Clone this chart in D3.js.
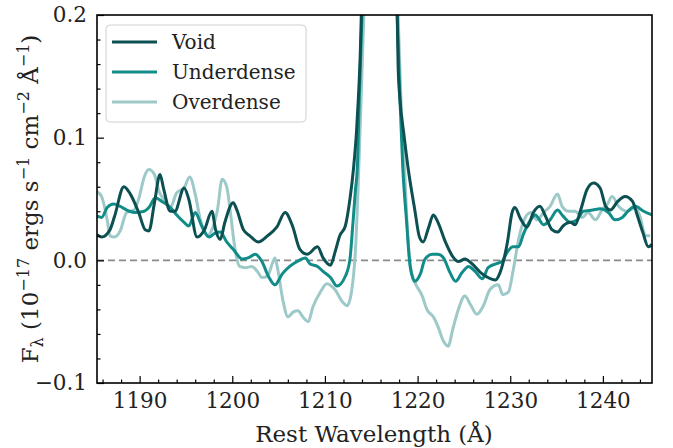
<!DOCTYPE html>
<html><head><meta charset="utf-8">
<script src="https://cdn.jsdelivr.net/npm/d3@7"></script>
<style>body{margin:0;background:#fff}svg{display:block}text{font-family:"DejaVu Serif",serif}</style>
</head><body><svg id="c" width="673" height="448"></svg>
<script>
const seriesNames = ["Void", "Underdense", "Overdense"];
const seriesColors = ["#0c5052", "#128c88", "#9dc9c8"];
const voidWave = [1185.4,1185.9,1186.8,1187.3,1188.3,1189.0,1189.9,1190.6,1191.0,1191.6,1192.2,1192.6,1193.3,1193.8,1194.8,1195.3,1196.2,1197.0,1197.8,1198.2,1198.7,1199.2,1200.1,1200.5,1201.2,1201.9,1202.8,1203.8,1204.8,1205.7,1206.5,1207.3,1208.1,1209.2,1209.8,1210.6,1211.1,1211.6,1212.2,1212.7,1213.1,1213.4,1213.6,1213.8,1214.1,1215.7,1217.3,1217.8,1217.9,1218.1,1218.5,1219.0,1219.7,1220.2,1220.6,1221.2,1221.7,1222.2,1223.0,1223.8,1224.4,1225.1,1225.9,1226.8,1227.6,1228.4,1228.9,1229.7,1230.2,1230.5,1231.1,1231.8,1232.5,1233.2,1233.8,1234.5,1235.1,1235.7,1236.5,1237.0,1237.6,1238.3,1239.0,1239.7,1240.3,1240.8,1241.6,1242.4,1243.2,1243.7,1244.3,1244.9,1245.3];
const voidFlux = [0.021,0.019,0.025,0.036,0.060,0.054,0.039,0.025,0.024,0.047,0.070,0.058,0.040,0.040,0.059,0.050,0.019,0.025,0.040,0.025,0.017,0.031,0.047,0.041,0.025,0.020,0.015,0.020,0.027,0.039,0.028,0.009,0.005,0.011,0.002,-0.004,0.007,0.020,0.028,0.050,0.076,0.104,0.131,0.165,0.25,0.6,0.25,0.2,0.158,0.131,0.104,0.074,0.041,0.019,0.015,0.027,0.037,0.031,0.015,0.003,-0.001,0.001,-0.003,-0.010,-0.014,-0.016,-0.010,0.015,0.039,0.043,0.034,0.027,0.039,0.044,0.036,0.025,0.023,0.028,0.031,0.029,0.041,0.058,0.063,0.059,0.044,0.041,0.048,0.052,0.048,0.037,0.023,0.011,0.013];
const underWave = [1185.4,1185.9,1186.5,1187.2,1187.9,1188.9,1189.5,1190.5,1191.0,1191.7,1192.4,1193.2,1194.0,1194.8,1195.3,1196.0,1196.7,1197.5,1198.1,1198.7,1199.4,1200.1,1201.1,1201.7,1202.5,1203.2,1203.9,1204.6,1205.4,1206.2,1207.0,1207.9,1208.4,1209.2,1209.8,1210.6,1211.3,1212.2,1212.7,1213.0,1213.3,1213.5,1213.7,1214.0,1214.4,1215.8,1217.3,1217.8,1218.1,1218.4,1218.8,1219.2,1219.7,1220.3,1220.8,1221.6,1222.2,1222.8,1223.5,1224.1,1224.8,1225.5,1226.2,1227.0,1227.6,1228.4,1229.1,1229.7,1230.3,1230.9,1231.4,1232.2,1232.7,1233.6,1234.3,1235.1,1235.7,1236.5,1237.2,1237.9,1238.9,1239.7,1240.6,1241.3,1242.1,1242.7,1243.5,1244.4,1245.3];
const underFlux = [0.036,0.035,0.043,0.046,0.044,0.040,0.039,0.040,0.043,0.051,0.048,0.044,0.037,0.031,0.028,0.039,0.028,0.019,0.022,0.023,0.015,0.009,0.001,0.002,0.005,-0.001,-0.013,-0.020,-0.011,-0.005,-0.001,0.002,-0.003,-0.005,-0.009,-0.014,-0.021,-0.013,0.001,0.028,0.058,0.076,0.131,0.200,0.28,0.55,0.28,0.2,0.131,0.076,0.033,-0.005,-0.017,-0.011,0.001,0.005,0.005,0.002,-0.010,-0.017,-0.010,-0.005,-0.009,-0.015,-0.006,-0.003,-0.001,0.007,0.011,0.011,0.021,0.033,0.037,0.029,0.033,0.041,0.036,0.031,0.033,0.040,0.041,0.042,0.039,0.033,0.035,0.040,0.044,0.040,0.037];
const overWave = [1185.4,1185.9,1186.5,1186.8,1187.3,1187.9,1188.6,1189.4,1189.9,1190.5,1191.0,1191.6,1192.1,1192.6,1193.3,1194.0,1194.8,1195.4,1196.0,1196.5,1197.3,1197.8,1198.4,1198.9,1199.4,1199.8,1200.3,1200.8,1201.4,1202.1,1202.7,1203.2,1203.8,1204.3,1204.6,1204.9,1205.5,1206.0,1206.6,1207.1,1207.6,1208.2,1208.7,1209.5,1210.2,1211.1,1211.9,1212.4,1212.9,1213.3,1213.6,1213.9,1214.2,1214.6,1215.8,1217.1,1217.9,1218.2,1218.6,1218.9,1219.2,1219.5,1219.7,1220.5,1221.0,1221.7,1222.2,1222.8,1223.3,1223.8,1224.4,1225.1,1225.7,1226.4,1227.1,1227.8,1228.7,1229.2,1229.8,1230.3,1230.9,1231.4,1232.2,1232.9,1233.6,1234.3,1235.1,1235.6,1236.3,1237.0,1237.8,1238.4,1239.2,1239.9,1240.5,1241.0,1241.7,1242.6,1243.5,1244.0,1244.6,1245.1];
const overFlux = [0.056,0.052,0.033,0.020,0.019,0.024,0.039,0.041,0.050,0.068,0.074,0.070,0.056,0.050,0.043,0.055,0.059,0.068,0.054,0.035,0.020,0.025,0.041,0.066,0.060,0.039,0.009,-0.005,-0.006,-0.005,-0.009,-0.014,-0.013,-0.003,0.002,-0.007,-0.034,-0.046,-0.042,-0.041,-0.046,-0.050,-0.038,-0.026,-0.019,-0.024,-0.034,-0.037,-0.024,0.009,0.063,0.131,0.2,0.28,0.5,0.28,0.2,0.131,0.074,0.025,-0.003,-0.014,-0.018,-0.029,-0.040,-0.046,-0.054,-0.066,-0.070,-0.056,-0.040,-0.029,-0.036,-0.044,-0.037,-0.024,-0.020,-0.028,-0.026,-0.009,0.017,0.031,0.039,0.033,0.039,0.044,0.054,0.044,0.040,0.040,0.035,0.039,0.033,0.041,0.046,0.052,0.044,0.040,0.043,0.036,0.020,0.020];
const xTicks = [1190, 1200, 1210, 1220, 1230, 1240];
const yTicks = [-0.1, 0.0, 0.1, 0.2];
const xDomain = [1185.4, 1245.3];
const yDomain = [-0.1, 0.2];

const svg = d3.select("#c");
const L = 97, R = 652, T = 15, B = 383;
const x = d3.scaleLinear().domain(xDomain).range([L, R]);
const y = d3.scaleLinear().domain(yDomain).range([B, T]);

svg.append("clipPath").attr("id","clip").append("rect")
  .attr("x", L).attr("y", T).attr("width", R-L).attr("height", B-T);

// zero line
svg.append("line").attr("x1", L).attr("x2", R).attr("y1", y(0)).attr("y2", y(0))
  .attr("stroke", "#8a8a8a").attr("stroke-width", 1.6).attr("stroke-dasharray", "7,4");

const data = [
  {wave: voidWave, flux: voidFlux},
  {wave: underWave, flux: underFlux},
  {wave: overWave, flux: overFlux}
];
const line = d3.line().curve(d3.curveMonotoneX).x(d => x(d[0])).y(d => y(d[1]));
const g = svg.append("g").attr("clip-path", "url(#clip)");
[2,1,0].forEach(i => {
  const pts = data[i].wave.map((w, k) => [w, data[i].flux[k]]);
  g.append("path").datum(pts).attr("d", line).attr("fill","none")
    .attr("stroke", seriesColors[i]).attr("stroke-width", 3).attr("stroke-linejoin","round");
});

// axes (ticks inward)
const xAxis = d3.axisBottom(x).tickValues(xTicks).tickFormat(d3.format("d")).tickSizeInner(-7).tickSizeOuter(0).tickPadding(10);
const xMinor = d3.axisBottom(x).tickValues(d3.range(1186, 1246, 2).filter(v => v % 10 !== 0)).tickFormat("").tickSizeInner(-3.5).tickSizeOuter(0);
const yAxis = d3.axisLeft(y).tickValues(yTicks).tickFormat(d => d3.format(".1f")(d).replace("-", "\u2212")).tickSizeInner(-7).tickSizeOuter(0).tickPadding(10);
const yMinor = d3.axisLeft(y).tickValues(d3.range(-0.08, 0.2, 0.02).filter(v => Math.abs(Math.round(v*100)) % 10 !== 0)).tickFormat("").tickSizeInner(-3.5).tickSizeOuter(0);

function style(sel){
  sel.select(".domain").remove();
  sel.selectAll("line").attr("stroke","#000").attr("stroke-width",1.2);
  sel.selectAll("text").attr("font-family","DejaVu Serif").attr("font-size",21.5).attr("fill","#222");
}
svg.append("g").attr("transform",`translate(0,${B})`).call(xAxis).call(style);
svg.append("g").attr("transform",`translate(0,${B})`).call(xMinor).call(style);
svg.append("g").attr("transform",`translate(${L},0)`).call(yAxis).call(style);
svg.append("g").attr("transform",`translate(${L},0)`).call(yMinor).call(style);

// frame
svg.append("rect").attr("x", L).attr("y", T).attr("width", R-L).attr("height", B-T)
  .attr("fill","none").attr("stroke","#000").attr("stroke-width",1.6);

// axis labels
svg.append("text").attr("x", 374).attr("y", 442).attr("text-anchor","middle")
  .attr("font-size", 23).attr("fill","#222").text("Rest Wavelength (\u00C5)");

const yl = svg.append("text").attr("transform", `translate(38,${(T+B)/2}) rotate(-90)`)
  .attr("text-anchor","middle").attr("font-size", 23).attr("fill","#222");
yl.append("tspan").text("F");
yl.append("tspan").attr("font-size", 16).attr("dy", 5).text("\u03BB");
yl.append("tspan").attr("dy", -5).text(" (10");
yl.append("tspan").attr("font-size", 16).attr("dy", -9).text("\u221217");
yl.append("tspan").attr("dy", 9).text(" ergs s");
yl.append("tspan").attr("font-size", 16).attr("dy", -9).text("\u22121");
yl.append("tspan").attr("dy", 9).text(" cm");
yl.append("tspan").attr("font-size", 16).attr("dy", -9).text("\u22122");
yl.append("tspan").attr("dy", 9).text(" \u00C5");
yl.append("tspan").attr("font-size", 16).attr("dy", -9).text("\u22121");
yl.append("tspan").attr("dy", 9).text(")");

// legend
const lg = svg.append("g");
lg.append("rect").attr("x", 106).attr("y", 25).attr("width", 200).attr("height", 97).attr("rx", 4)
  .attr("fill","#fff").attr("fill-opacity",0.8).attr("stroke","#d0d0d0").attr("stroke-width",1);
seriesNames.forEach((n, i) => {
  const yy = 42 + i * 30;
  lg.append("line").attr("x1", 112).attr("x2", 157).attr("y1", yy).attr("y2", yy)
    .attr("stroke", seriesColors[i]).attr("stroke-width", 3);
  lg.append("text").attr("x", 172).attr("y", yy).attr("dy", "0.36em")
    .attr("font-size", 20).attr("fill","#222").text(n);
});
</script></body></html>
